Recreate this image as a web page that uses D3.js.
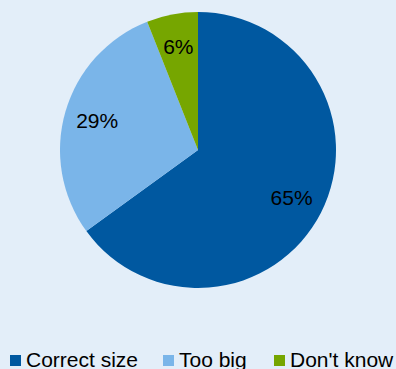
<!DOCTYPE html>
<html><head><meta charset="utf-8">
<script src="https://cdn.jsdelivr.net/npm/d3@7"></script>
<style>
html,body{margin:0;padding:0;background:#E3EEF9;}
svg{display:block;}
text{font-family:"Liberation Sans",Arial,sans-serif;}
</style></head>
<body>
<svg id="chart" width="396" height="369"></svg>
<script>
const categories = ["Correct size", "Too big", "Don't know"];
const values = [65, 29, 6];
const labels = ["65%", "29%", "6%"];
const colors = ["#0058A0", "#7AB5E9", "#76A600"];

const svg = d3.select("#chart");
svg.append("rect").attr("width",396).attr("height",369).attr("fill","#E3EEF9");

const cx = 198, cy = 150, R = 138;
const pie = d3.pie().sort(null).value(d => d)(values);
const arc = d3.arc().innerRadius(0).outerRadius(R);
const labelArc = d3.arc().innerRadius(105).outerRadius(105);

const g = svg.append("g").attr("transform", `translate(${cx},${cy})`);
g.selectAll("path").data(pie).enter().append("path")
  .attr("d", arc).attr("fill", (d,i) => colors[i]);

g.selectAll("text.lbl").data(pie).enter().append("text")
  .attr("class","lbl")
  .attr("transform", d => `translate(${labelArc.centroid(d)})`)
  .attr("text-anchor","middle").attr("dy","0.35em")
  .attr("font-size", 21).attr("fill","#000")
  .text((d,i) => labels[i]);

const legendX = [10, 163, 274];
const lg = svg.append("g");
categories.forEach((c,i) => {
  lg.append("rect").attr("x", legendX[i]).attr("y", 355).attr("width", 11).attr("height", 11).attr("fill", colors[i]);
  lg.append("text").attr("x", legendX[i] + 16).attr("y", 366.5)
    .attr("font-size", 21).attr("fill","#000").text(c);
});
</script>
</body></html>
